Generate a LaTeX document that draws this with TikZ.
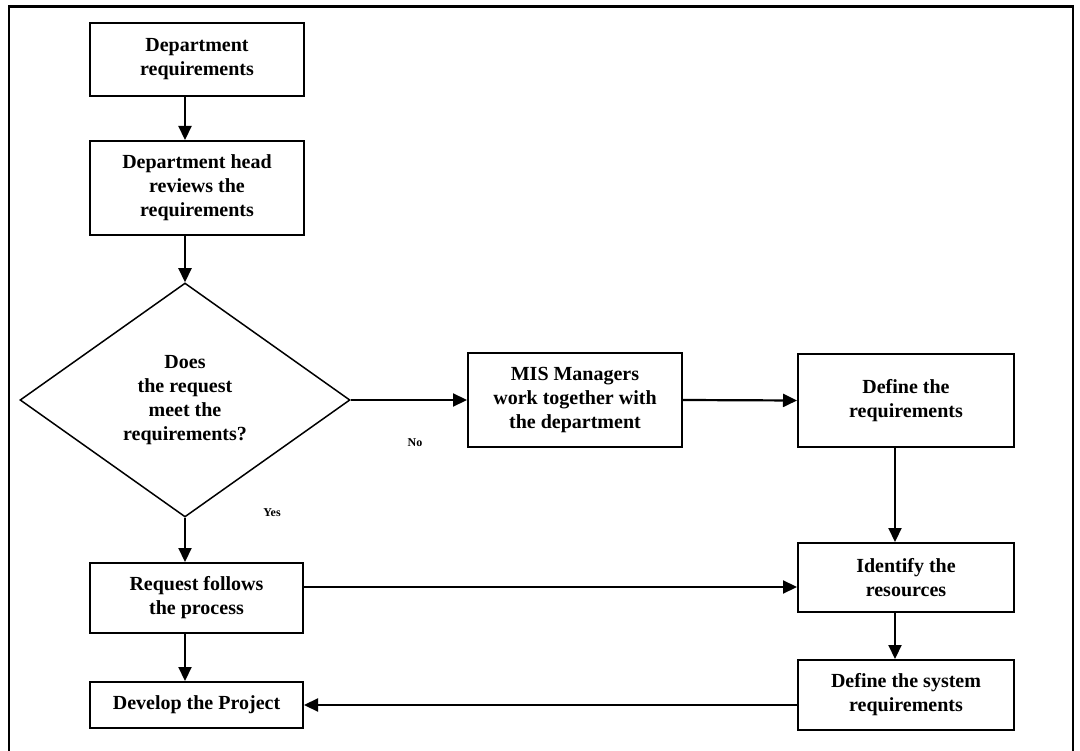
\documentclass[tikz,border=0pt]{standalone}
\usepackage{fontspec}
\setmainfont{Liberation Serif}
\usetikzlibrary{arrows.meta,shapes.geometric}
\begin{document}
\begin{tikzpicture}[x=1pt,y=-1pt,
  box/.style={draw, line width=2pt, rectangle, align=center, inner sep=2pt,
              font=\fontsize{20}{24}\selectfont\bfseries},
  decision/.style={draw, line width=1.5pt, diamond, aspect=1.41, inner sep=0pt,
              minimum width=330pt, minimum height=234pt, align=center,
              font=\fontsize{20}{24}\selectfont\bfseries},
  arr/.style={line width=2.2pt, -{Triangle[length=14pt,width=13pt]}},
  lbl/.style={font=\fontsize{12}{14}\selectfont\bfseries, inner sep=0pt}
]
\useasboundingbox (0,0) rectangle (1080,751);

% outer frame, open at the bottom
\draw[line width=2.2pt] (9,751) -- (9,6.5) -- (1073,6.5) -- (1073,751);

% left column
\node[box, minimum width=214pt, minimum height=73pt] (b1) at (197,59.5) {Department\\requirements};
\node[box, minimum width=214pt, minimum height=94pt] (b2) at (197,188) {Department head\\reviews the\\requirements};
\node[decision] (dia) at (185,400) {Does\\the request\\meet the\\requirements?};
\node[box, minimum width=213pt, minimum height=70pt] (req) at (196.5,598) {Request follows\\the process};
\node[box, minimum width=213pt, minimum height=46pt] (dev) at (196.5,705) {Develop the Project};

% middle and right columns
\node[box, minimum width=214pt, minimum height=94pt] (mis) at (575,400) {MIS Managers\\work together with\\the department};
\node[box, minimum width=216pt, minimum height=93pt] (defreq) at (906,400.5) {Define the\\requirements};
\node[box, minimum width=216pt, minimum height=69pt] (ident) at (906,577.5) {Identify the\\resources};
\node[box, minimum width=216pt, minimum height=70pt] (defsys) at (906,695) {Define the system\\requirements};

% branch labels
\node[lbl] (no) at (415,443) {No};
\node[lbl] (yes) at (272,513) {Yes};

% connectors
\draw[arr] (b1.south -| dia.north) -- (b2.north -| dia.north);
\draw[arr] (b2.south -| dia.north) -- (dia.north);
\draw[arr] (dia.south) -- (req.north -| dia.south);
\draw[arr] (req.south -| dia.south) -- (dev.north -| dia.south);
\draw[arr] (dia.east) -- (mis.west);
\draw[arr] (mis.east) -- (defreq.west);
\draw[arr] ([xshift=-11pt]defreq.south) -- ([xshift=-11pt]ident.north);
\draw[arr] ([xshift=-11pt]ident.south) -- ([xshift=-11pt]defsys.north);
\draw[arr] ([yshift=11pt]req.east) -- ([yshift=11pt]req.east -| ident.west);
\draw[arr] (dev.east -| defsys.west) -- (dev.east);
\end{tikzpicture}
\end{document}
